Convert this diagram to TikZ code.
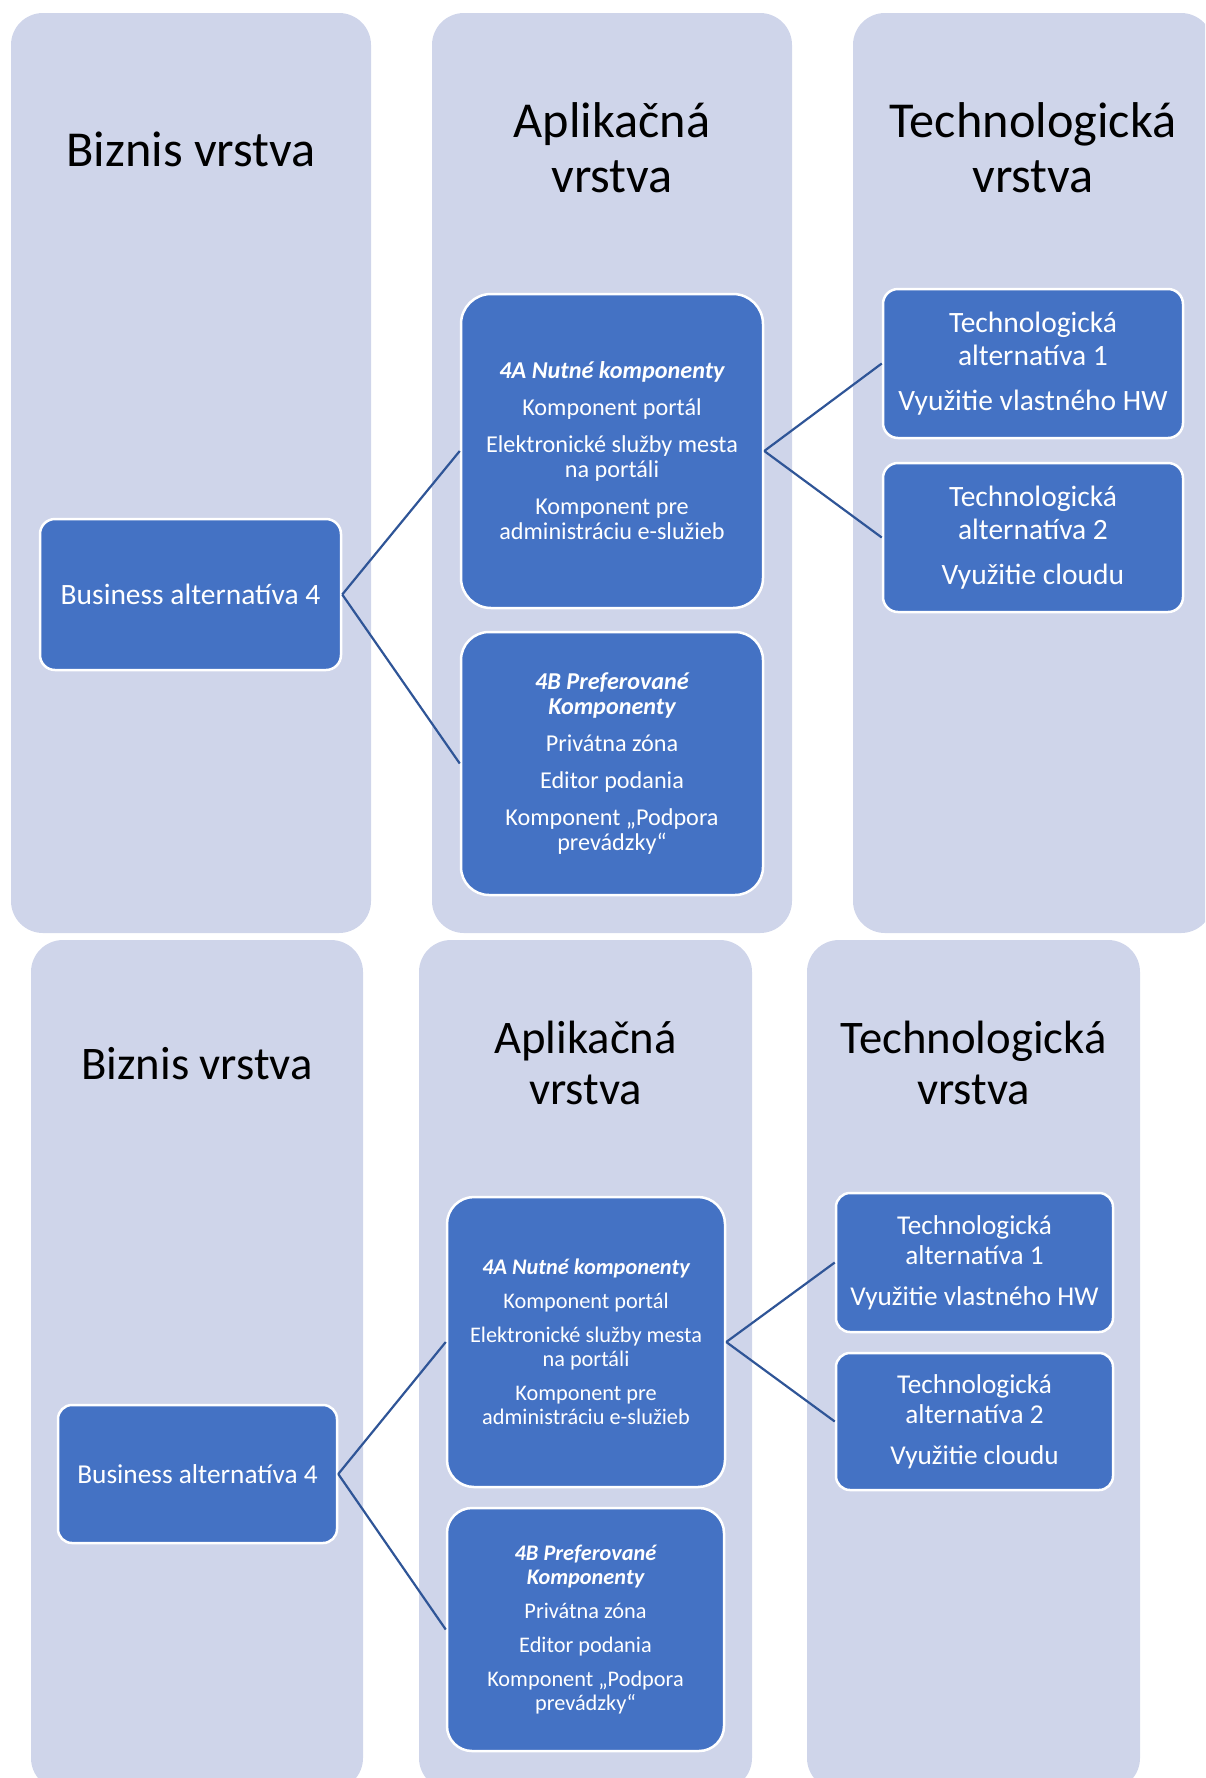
\documentclass[tikz,border=0pt]{standalone}
\usepackage{fontspec}
\setmainfont{Carlito}
\definecolor{panelc}{RGB}{207,213,234}
\definecolor{boxc}{RGB}{68,114,196}
\definecolor{linec}{RGB}{47,85,151}
\newcommand\hdline[1]{{\bfseries\itshape #1}}
\begin{document}
\begin{tikzpicture}[x=1pt,y=-1pt,
  panel/.style={fill=panelc, draw=none, rounded corners=32pt},
  layertitle/.style={text=black, align=center, inner sep=0pt},
  box/.style={rectangle, fill=boxc, draw=white, line width=2.5pt,
    text=white, align=center, inner sep=0pt, anchor=center},
  link/.style={draw=linec, line width=2.2pt},
  titleA/.style={font=\fontsize{50.3}{55}\selectfont},
  titleB/.style={font=\fontsize{46.7}{51}\selectfont},
  bizA/.style={font=\fontsize{29.5}{33}\selectfont},
  bizB/.style={font=\fontsize{27.3}{31}\selectfont},
  compA/.style={font=\fontsize{24.2}{25}\selectfont},
  compB/.style={font=\fontsize{22.3}{24}\selectfont},
  techA/.style={font=\fontsize{29.5}{33}\selectfont},
  techB/.style={font=\fontsize{27.2}{30}\selectfont}]
\useasboundingbox (0,0) rectangle (1205,1778);
\clip (0,0) rectangle (1205,1778);

% ---------- upper diagram: layer panels ----------
\fill[panel] (11,13) rectangle (371,933);
\fill[panel] (432,13) rectangle (792,933);
\fill[panel] (853,13) rectangle (1213,933);

\node[layertitle, titleA, anchor=base] (t-lbiz) at (191,166) {Biznis vrstva};
\node[layertitle, titleA] (t-lapp) at (612,148) {Aplikačná\\vrstva};
\node[layertitle, titleA] (t-ltech) at (1033,148) {Technologická\\vrstva};

% ---------- upper diagram: boxes ----------
\node[box, bizA, minimum width=301, minimum height=151, rounded corners=15pt]
  (t-biz) at (190.5,594.5) {Business alternatíva 4};
\node[box, compA, minimum width=302, minimum height=314, rounded corners=30pt]
  (t-4a) at (612,451) {\hdline{4A Nutné komponenty}\\[12pt]Komponent portál\\[12pt]Elektronické služby mesta\\na portáli\\[12pt]Komponent pre\\administráciu e-služieb};
\node[box, compA, minimum width=302, minimum height=263, rounded corners=28pt]
  (t-4b) at (612,763.5) {\hdline{4B Preferované}\\\hdline{Komponenty}\\[12pt]Privátna zóna\\[12pt]Editor podania\\[12pt]Komponent „Podpora\\prevádzky“};
\node[box, techA, minimum width=300, minimum height=149, rounded corners=15pt]
  (t-te1) at (1033,363.5) {Technologická\\alternatíva 1\\[12pt]Využitie vlastného HW};
\node[box, techA, minimum width=300, minimum height=149, rounded corners=15pt]
  (t-te2) at (1033,537.5) {Technologická\\alternatíva 2\\[12pt]Využitie cloudu};

\draw[link] (t-biz.east) -- (t-4a.west);
\draw[link] (t-biz.east) -- (t-4b.west);
\draw[link] (t-4a.east) -- (t-te1.west);
\draw[link] (t-4a.east) -- (t-te2.west);

% ---------- lower diagram: layer panels ----------
\fill[panel] (31,940) rectangle (363,1790);
\fill[panel] (419,940) rectangle (752,1790);
\fill[panel] (807,940) rectangle (1140,1790);

\node[layertitle, titleB, anchor=base] (b-lbiz) at (197,1079) {Biznis vrstva};
\node[layertitle, titleB] (b-lapp) at (585.5,1063) {Aplikačná\\vrstva};
\node[layertitle, titleB] (b-ltech) at (973.5,1063) {Technologická\\vrstva};

% ---------- lower diagram: boxes ----------
\node[box, bizB, minimum width=279, minimum height=138, rounded corners=14pt]
  (b-biz) at (197.5,1474) {Business alternatíva 4};
\node[box, compB, minimum width=278, minimum height=290, rounded corners=27pt]
  (b-4a) at (586,1342) {\hdline{4A Nutné komponenty}\\[10pt]Komponent portál\\[10pt]Elektronické služby mesta\\na portáli\\[10pt]Komponent pre\\administráciu e-služieb};
\node[box, compB, minimum width=277, minimum height=243, rounded corners=25pt]
  (b-4b) at (585.5,1629.5) {\hdline{4B Preferované}\\\hdline{Komponenty}\\[10pt]Privátna zóna\\[10pt]Editor podania\\[10pt]Komponent „Podpora\\prevádzky“};
\node[box, techB, minimum width=277, minimum height=139, rounded corners=14pt]
  (b-te1) at (974.5,1262.5) {Technologická\\alternatíva 1\\[11pt]Využitie vlastného HW};
\node[box, techB, minimum width=277, minimum height=137, rounded corners=14pt]
  (b-te2) at (974.5,1421.5) {Technologická\\alternatíva 2\\[11pt]Využitie cloudu};

\draw[link] (b-biz.east) -- (b-4a.west);
\draw[link] (b-biz.east) -- (b-4b.west);
\draw[link] (b-4a.east) -- (b-te1.west);
\draw[link] (b-4a.east) -- (b-te2.west);
\end{tikzpicture}
\end{document}
